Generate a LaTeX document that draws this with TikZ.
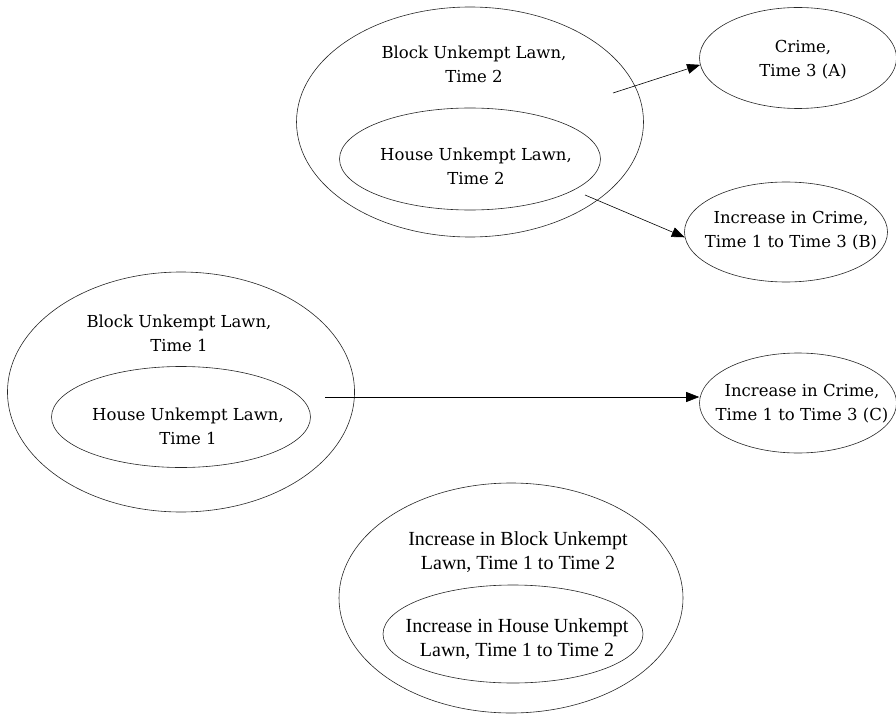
\documentclass[tikz,border=0pt]{standalone}
\usepackage{fontspec}
\setmainfont{Liberation Serif}
\newfontfamily\schoolfont{DejaVu Serif}
\usetikzlibrary{arrows.meta,positioning,shapes.geometric}

\begin{document}
\begin{tikzpicture}[
  x=1pt,y=-1pt,
  lawn/.style={ellipse,draw=black!85,line width=0.6pt,inner sep=0pt},
  caption/.style={font=\schoolfont\fontsize{16.5}{24}\selectfont,align=center,inner sep=0pt},
  romancaption/.style={font=\fontsize{20}{24}\selectfont,align=center,inner sep=0pt},
  arr/.style={-{Triangle[length=13pt,width=10pt]},line width=0.6pt}
]
  \useasboundingbox (0,0) rectangle (896,714);

  % time 2 lawns
  \node[lawn,minimum width=347pt,minimum height=230pt] (blockT2) at (470,122) {};
  \node[lawn,minimum width=261pt,minimum height=102pt] (houseT2) at (470,159) {};
  \node[caption] (blockT2txt) at (474,64) {Block Unkempt Lawn,\\Time 2};
  \node[caption] (houseT2txt) at (476,166) {House Unkempt Lawn,\\Time 2};

  % time 1 lawns
  \node[lawn,minimum width=347pt,minimum height=240pt] (blockT1) at (181,392) {};
  \node[lawn,minimum width=259pt,minimum height=101pt] (houseT1) at (181,417) {};
  \node[caption] (blockT1txt) at (179,333) {Block Unkempt Lawn,\\Time 1};
  \node[caption] (houseT1txt) at (188,426) {House Unkempt Lawn,\\Time 1};

  % change in lawns
  \node[lawn,minimum width=344pt,minimum height=230pt] (blockD) at (511,598) {};
  \node[lawn,minimum width=260pt,minimum height=98pt] (houseD) at (513,634) {};
  \node[romancaption] (blockDtxt) at (518,552) {Increase in Block Unkempt\\Lawn, Time 1 to Time 2};
  \node[romancaption] (houseDtxt) at (517,639) {Increase in House Unkempt\\Lawn, Time 1 to Time 2};

  % crime outcomes
  \node[lawn,minimum width=197pt,minimum height=101pt] (crimeA) at (798,58) {};
  \node[lawn,minimum width=203pt,minimum height=100pt] (incB) at (786,232) {};
  \node[lawn,minimum width=197pt,minimum height=100pt] (incC) at (798,403) {};
  \node[caption] (crimeAtxt) at (803,60) {Crime,\\Time 3 (A)};
  \node[caption] (incBtxt) at (791,231) {Increase in Crime,\\Time 1 to Time 3 (B)};
  \node[caption] (incCtxt) at (802,404) {Increase in Crime,\\Time 1 to Time 3 (C)};

  \coordinate (blockT2out) at (613,93);
  \coordinate (houseT2out) at (585,195);
  \coordinate (houseT1out) at (325,397);

  \draw[arr] (blockT2out) -- (crimeA.184);
  \draw[arr] (houseT2out) -- (incB.183);
  \draw[arr] (houseT1out) -- (houseT1out -| incC.west);
\end{tikzpicture}
\end{document}
